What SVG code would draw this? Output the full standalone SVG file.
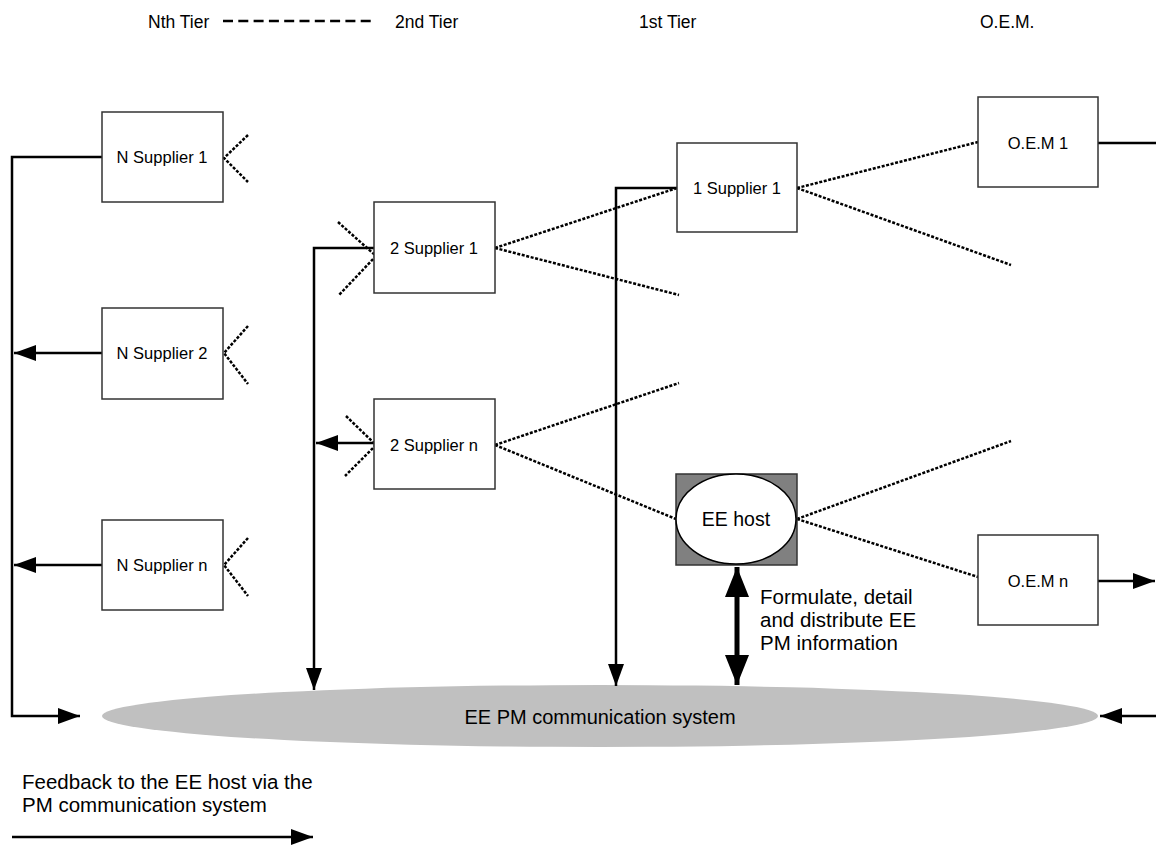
<svg xmlns="http://www.w3.org/2000/svg" width="1156" height="845" viewBox="0 0 1156 845">
<style>
text{font-family:"Liberation Sans",Arial,sans-serif;fill:#000}
.lbl{font-size:16.5px;text-anchor:middle}
.hdr{font-size:17.5px}
.note{font-size:20.5px}
.box{fill:#fff;stroke:#333;stroke-width:1.5}
.sol{stroke:#000;stroke-width:2.5;fill:none}
.dot{stroke:#000;stroke-width:2.5;stroke-dasharray:3 1.6;fill:none}
.dash{stroke:#000;stroke-width:2.5;stroke-dasharray:10 5.3;fill:none}
</style>
<defs>
<marker id="ah" markerUnits="userSpaceOnUse" markerWidth="24" markerHeight="16" refX="22" refY="8" orient="auto"><path d="M0,0 L22,8 L0,16 Z" fill="#000"/></marker>
<marker id="big" markerUnits="userSpaceOnUse" markerWidth="32" markerHeight="24" refX="30" refY="12" orient="auto-start-reverse"><path d="M0,0 L30,12 L0,24 Z" fill="#000"/></marker>
</defs>
<g id="header">
<text class="hdr" x="148" y="28">Nth Tier</text>
<path class="dash" d="M223,21 H375"/>
<text class="hdr" x="395" y="28">2nd Tier</text>
<text class="hdr" x="639" y="28">1st Tier</text>
<text class="hdr" x="980" y="28">O.E.M.</text>
</g>
<g id="comm-system">
<ellipse cx="600" cy="716" rx="498" ry="31" fill="#c0c0c0"/>
<text x="600" y="724" style="font-size:20px;text-anchor:middle">EE PM communication system</text>
</g>
<g id="connectors">
<path class="sol" d="M102,157 H12 V716 H80" marker-end="url(#ah)"/>
<path class="sol" d="M102,353 H14" marker-end="url(#ah)"/>
<path class="sol" d="M102,565 H14" marker-end="url(#ah)"/>
<path class="sol" d="M374,248 H314 V690" marker-end="url(#ah)"/>
<path class="sol" d="M374,443 H316" marker-end="url(#ah)"/>
<path class="sol" d="M677,188 H616 V686" marker-end="url(#ah)"/>
<path class="sol" d="M1098,143 H1156"/>
<path class="sol" d="M1098,581 H1155" marker-end="url(#ah)"/>
<path class="sol" d="M1156,716 H1100" marker-end="url(#ah)"/>
<path d="M737,567 V685" stroke="#000" stroke-width="5" fill="none" marker-start="url(#big)" marker-end="url(#big)"/>
<path class="sol" d="M12,837 H313" marker-end="url(#ah)"/>
<path class="dot" d="M248,135 L224,158 L248,182"/>
<path class="dot" d="M248,326 L224,353 L248,384"/>
<path class="dot" d="M248,538 L224,565 L248,596"/>
<path class="dot" d="M338,222 L376,256 L339,295"/>
<path class="dot" d="M346,416 L376,445 L345,476"/>
<path class="dot" d="M495,248 L677,188"/>
<path class="dot" d="M495,248 L679,295"/>
<path class="dot" d="M495,445 L679,383"/>
<path class="dot" d="M495,445 L676,519"/>
<path class="dot" d="M797,188 L978,142"/>
<path class="dot" d="M797,188 L1011,265"/>
<path class="dot" d="M797,519 L1011,441"/>
<path class="dot" d="M797,519 L978,577"/>
</g>
<g id="n-supplier-1"><rect class="box" x="102" y="112" width="121" height="90"/><text class="lbl" x="162" y="163">N Supplier 1</text></g>
<g id="n-supplier-2"><rect class="box" x="102" y="308" width="121" height="91"/><text class="lbl" x="162" y="359">N Supplier 2</text></g>
<g id="n-supplier-n"><rect class="box" x="102" y="520" width="121" height="90"/><text class="lbl" x="162" y="571">N Supplier n</text></g>
<g id="s2-supplier-1"><rect class="box" x="374" y="202" width="121" height="91"/><text class="lbl" x="434" y="254">2 Supplier 1</text></g>
<g id="s2-supplier-n"><rect class="box" x="374" y="399" width="121" height="90"/><text class="lbl" x="434" y="451">2 Supplier n</text></g>
<g id="s1-supplier-1"><rect class="box" x="677" y="143" width="120" height="89"/><text class="lbl" x="737" y="194">1 Supplier 1</text></g>
<g id="oem-1"><rect class="box" x="978" y="97" width="120" height="90"/><text class="lbl" x="1038" y="149">O.E.M 1</text></g>
<g id="oem-n"><rect class="box" x="978" y="535" width="120" height="90"/><text class="lbl" x="1038" y="587">O.E.M n</text></g>
<g id="ee-host">
<rect x="676" y="474" width="121" height="91" fill="#808080" stroke="#333" stroke-width="1.5"/>
<ellipse cx="736" cy="519" rx="60" ry="45" fill="#fff" stroke="#000" stroke-width="1.5"/>
<text x="736" y="526" style="font-size:19.5px;text-anchor:middle">EE host</text>
</g>
<g id="notes">
<text class="note" x="760" y="604">Formulate, detail</text>
<text class="note" x="760" y="627">and distribute EE</text>
<text class="note" x="760" y="650">PM information</text>
<text class="note" x="22" y="789">Feedback to the EE host via the</text>
<text class="note" x="22" y="812">PM communication system</text>
</g>
</svg>
